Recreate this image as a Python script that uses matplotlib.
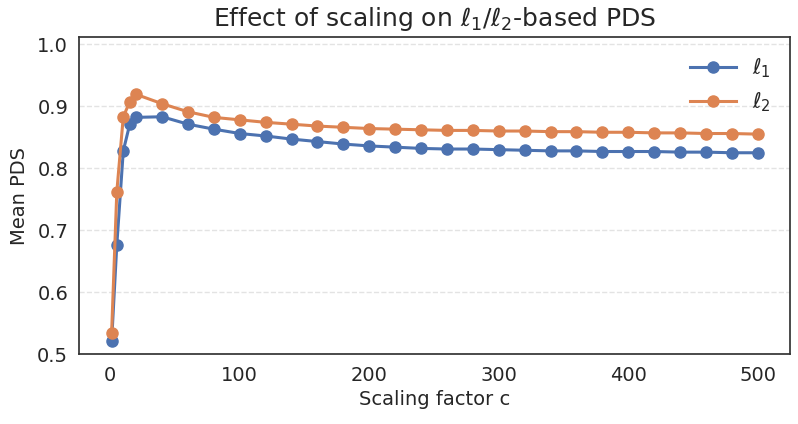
import matplotlib
matplotlib.use("Agg")
import matplotlib.pyplot as plt

c_values = [1, 5, 10, 15, 20, 40, 60, 80, 100, 120, 140, 160, 180, 200, 220, 240,
            260, 280, 300, 320, 340, 360, 380, 400, 420, 440, 460, 480, 500]
l1_pds = [0.521, 0.676, 0.828, 0.871, 0.882, 0.883, 0.871, 0.863, 0.856, 0.852,
          0.847, 0.843, 0.839, 0.836, 0.834, 0.832, 0.831, 0.831, 0.830, 0.829,
          0.828, 0.828, 0.827, 0.827, 0.827, 0.826, 0.826, 0.825, 0.825]
l2_pds = [0.535, 0.762, 0.883, 0.907, 0.919, 0.904, 0.891, 0.882, 0.878, 0.874,
          0.871, 0.868, 0.866, 0.864, 0.863, 0.862, 0.861, 0.861, 0.860, 0.860,
          0.859, 0.859, 0.858, 0.858, 0.857, 0.857, 0.856, 0.856, 0.855]
series_labels = [r"$\ell_1$", r"$\ell_2$"]

plt.rcParams['font.family'] = ['DejaVu Sans']
text_color = '#262626'

fig = plt.figure(figsize=(7.98, 4.24), dpi=100)
ax = fig.add_axes([0.0994, 0.164, 0.8906, 0.748])

ax.plot(c_values, l1_pds, '-o', color='#4C72B0', lw=2.2, ms=8, label=series_labels[0])
ax.plot(c_values, l2_pds, '-o', color='#DD8452', lw=2.2, ms=8, label=series_labels[1])

ax.set_ylim(0.5, 1.011)
ax.set_yticks([0.5, 0.6, 0.7, 0.8, 0.9, 1.0])
ax.set_xticks([0, 100, 200, 300, 400, 500])
ax.grid(axis='y', linestyle='--', color='#e3e3e3', lw=1.0)
ax.grid(axis='x', visible=False)
ax.set_axisbelow(True)

for s in ax.spines.values():
    s.set_color('#333333')
    s.set_linewidth(1.25)

ax.tick_params(axis='both', length=0, pad=8, labelsize=14, labelcolor=text_color)
ax.set_xlabel('Scaling factor c', fontsize=14, color=text_color, labelpad=4)
ax.set_ylabel('Mean PDS', fontsize=14, color=text_color, labelpad=6)
ax.set_title(r'Effect of scaling on $\ell_1/\ell_2$-based PDS', fontsize=18,
             color=text_color, pad=8)

leg = ax.legend(loc='upper right', frameon=False, fontsize=15, handlelength=2.2)
for t in leg.get_texts():
    t.set_color(text_color)

fig.savefig('out.png', dpi=100)
